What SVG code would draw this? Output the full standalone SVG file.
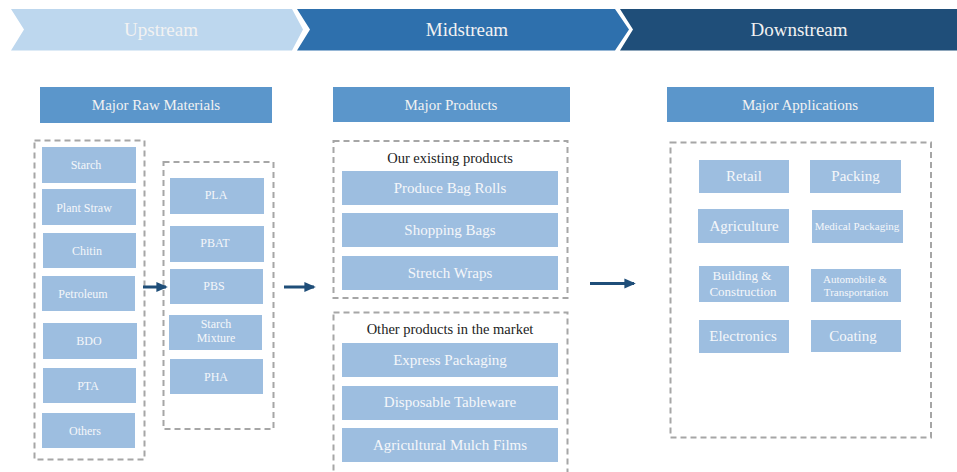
<svg xmlns="http://www.w3.org/2000/svg" width="957" height="472" viewBox="0 0 957 472">
<defs>
<style>
text{font-family:"Liberation Serif","Times New Roman",serif;text-anchor:middle}
.chev{font-size:19px;fill:#F2F2F2}
.hdr rect{fill:#5B96CB}
.hdr text{font-size:15px;fill:#F2F2F2}
.item rect{fill:#9DBEE0}
.item text{fill:#F5F7FA}
.s12{font-size:12px}
.s15{font-size:15px}
.s13{font-size:13px}
.s11{font-size:11px}
.dash{fill:none;stroke:#A6A6A6;stroke-width:2;stroke-dasharray:6 4}
.lbl{font-size:14.5px;fill:#222}
.conn{stroke:#1F4E79;stroke-width:3;fill:none}
</style>
<marker id="ah" markerWidth="4" markerHeight="4" refX="3.2" refY="2" orient="auto" markerUnits="strokeWidth">
<path d="M0,0.3 L3.8,2 L0,3.7 Z" fill="#1F4E79"/>
</marker>
</defs>
<rect width="957" height="472" fill="#FFFFFF"/>

<g id="stage-upstream">
<path d="M11,9 L292,9 L303,29.5 L292,50.5 L11,50.5 L24,29.5 Z" fill="#BDD7EE"/>
<text class="chev" x="161" y="36">Upstream</text>
</g>
<g id="stage-midstream">
<path d="M297,9 L615,9 L629,29.5 L615,50.5 L297,50.5 L310,29.5 Z" fill="#2E70AD"/>
<text class="chev" x="467" y="36">Midstream</text>
</g>
<g id="stage-downstream">
<path d="M620,9 L957,9 L957,50.5 L620,50.5 L633,29.5 Z" fill="#1F4E79"/>
<text class="chev" x="799" y="36">Downstream</text>
</g>

<g id="hdr-raw" class="hdr"><rect x="40" y="87" width="232" height="36"/><text x="156" y="110">Major Raw Materials</text></g>
<g id="hdr-products" class="hdr"><rect x="333" y="87" width="237" height="35"/><text x="451" y="109.5">Major Products</text></g>
<g id="hdr-apps" class="hdr"><rect x="667" y="87" width="267" height="35"/><text x="800" y="109.5">Major Applications</text></g>

<g id="group-raw"><rect class="dash" x="34.5" y="140.5" width="110" height="319"/></g>
<g id="group-inter"><rect class="dash" x="163.5" y="162" width="110" height="267"/></g>
<g id="group-existing"><rect class="dash" x="333.5" y="141" width="234" height="157"/><text class="lbl" x="450" y="163">Our existing products</text></g>
<g id="group-other"><rect class="dash" x="333.5" y="312.5" width="234" height="170"/><text class="lbl" x="450" y="334">Other products in the market</text></g>
<g id="group-apps"><rect class="dash" x="670.5" y="142.5" width="260.5" height="295"/></g>

<g id="n-starch" class="item"><rect x="42" y="147" width="94" height="36"/><text class="s12" x="86" y="169">Starch</text></g>
<g id="n-plantstraw" class="item"><rect x="42" y="189" width="94" height="36"/><text class="s12" x="84" y="212">Plant Straw</text></g>
<g id="n-chitin" class="item"><rect x="43" y="233" width="93" height="35"/><text class="s12" x="87" y="255">Chitin</text></g>
<g id="n-petroleum" class="item"><rect x="42" y="276" width="93" height="35"/><text class="s12" x="83" y="298">Petroleum</text></g>
<g id="n-bdo" class="item"><rect x="43" y="323" width="94" height="36"/><text class="s12" x="89" y="345">BDO</text></g>
<g id="n-pta" class="item"><rect x="43" y="368" width="93" height="35"/><text class="s12" x="88" y="390">PTA</text></g>
<g id="n-others" class="item"><rect x="42" y="413" width="93" height="35"/><text class="s12" x="85" y="435">Others</text></g>

<g id="n-pla" class="item"><rect x="170" y="178" width="94" height="36"/><text class="s12" x="216" y="199">PLA</text></g>
<g id="n-pbat" class="item"><rect x="170" y="226" width="94" height="36"/><text class="s12" x="215" y="247">PBAT</text></g>
<g id="n-pbs" class="item"><rect x="170" y="269" width="93" height="35"/><text class="s12" x="214" y="290">PBS</text></g>
<g id="n-starchmix" class="item"><rect x="169" y="315" width="93" height="35"/><text class="s12" x="216" y="328">Starch</text><text class="s12" x="216" y="342">Mixture</text></g>
<g id="n-pha" class="item"><rect x="170" y="359" width="93" height="35"/><text class="s12" x="216" y="381">PHA</text></g>

<g id="n-produce" class="item"><rect x="342" y="171" width="216" height="34"/><text class="s15" x="450" y="193">Produce Bag Rolls</text></g>
<g id="n-shopping" class="item"><rect x="342" y="213" width="216" height="34"/><text class="s15" x="450" y="235">Shopping Bags</text></g>
<g id="n-stretch" class="item"><rect x="342" y="256" width="216" height="34"/><text class="s15" x="450" y="278">Stretch Wraps</text></g>
<g id="n-express" class="item"><rect x="342" y="343" width="216" height="34"/><text class="s15" x="450" y="365">Express Packaging</text></g>
<g id="n-tableware" class="item"><rect x="342" y="386" width="216" height="34"/><text class="s15" x="450" y="407">Disposable Tableware</text></g>
<g id="n-mulch" class="item"><rect x="342" y="428" width="216" height="34"/><text class="s15" x="450" y="450">Agricultural Mulch Films</text></g>

<g id="n-retail" class="item"><rect x="699" y="160" width="90" height="33"/><text class="s15" x="744" y="181">Retail</text></g>
<g id="n-packing" class="item"><rect x="810" y="160" width="91" height="33"/><text class="s15" x="855.5" y="181">Packing</text></g>
<g id="n-agriculture" class="item"><rect x="698" y="209" width="91" height="34"/><text class="s15" x="744" y="231">Agriculture</text></g>
<g id="n-medical" class="item"><rect x="812" y="210" width="91" height="33"/><text class="s11" x="857" y="230">Medical Packaging</text></g>
<g id="n-building" class="item"><rect x="699" y="266" width="90" height="36"/><text class="s13" x="742" y="280">Building &amp;</text><text class="s13" x="743" y="296">Construction</text></g>
<g id="n-automobile" class="item"><rect x="811" y="269" width="90" height="33"/><text class="s11" x="855" y="283">Automobile &amp;</text><text class="s11" x="856" y="296">Transportation</text></g>
<g id="n-electronics" class="item"><rect x="699" y="320" width="90" height="33"/><text class="s15" x="743" y="341">Electronics</text></g>
<g id="n-coating" class="item"><rect x="811" y="320" width="90" height="32"/><text class="s15" x="853" y="341">Coating</text></g>

<g id="connectors">
<line class="conn" x1="143" y1="287" x2="166" y2="287" marker-end="url(#ah)"/>
<line class="conn" x1="284" y1="287" x2="314" y2="287" marker-end="url(#ah)"/>
<line class="conn" x1="590" y1="283.5" x2="634" y2="283.5" marker-end="url(#ah)"/>
</g>
</svg>
